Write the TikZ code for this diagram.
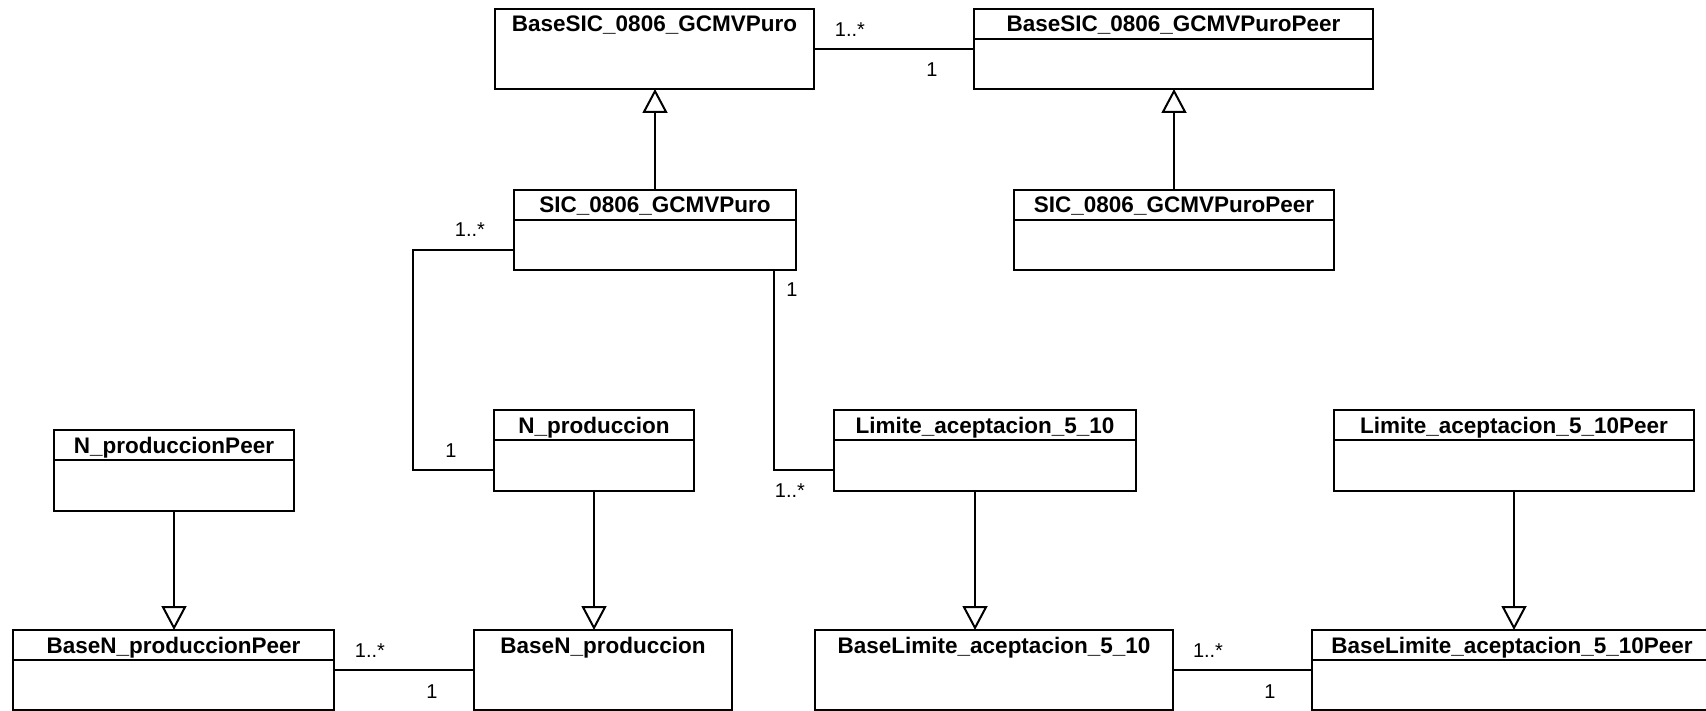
\documentclass[tikz,border=0pt]{standalone}
\usepackage{fontspec}
\setmainfont{Liberation Sans}
\usetikzlibrary{arrows.meta,calc,fit}

% class box: outline and title
\newcommand{\umlclass}[6]{%
  \node[classbox, fit={(#2,#3) (#4,#5)}] (#1) {};
  \node[classtitle] (#1-title) at ($(#1.north)+(0,23)$) {#6};
}
% header separator below the class name
\newcommand{\umlsep}[1]{%
  \draw[classline] ($(#1.north west)+(0,30)$) -- ($(#1.north east)+(0,30)$);
}

\begin{document}
\begin{tikzpicture}[x=1pt, y=-1pt,
  classline/.style={line width=2pt, black},
  classbox/.style={draw, line width=2pt, inner sep=0pt, outer sep=0pt, rectangle},
  classtitle/.style={anchor=base, inner sep=0pt, font=\bfseries\fontsize{22.5}{27}\selectfont},
  mult/.style={anchor=base, inner sep=0pt, font=\fontsize{20}{24}\selectfont},
  assoc/.style={line width=2pt},
  gen/.style={line width=2pt, -{Triangle[open, length=24pt, width=25pt, line width=2pt]}},
]
\useasboundingbox (0,0) rectangle (1706,711);

% classes
\umlclass{bsic}{495}{9}{814}{89}{BaseSIC\_0806\_GCMVPuro}
\umlclass{bsicp}{974}{9}{1373}{89}{BaseSIC\_0806\_GCMVPuroPeer}
\umlsep{bsicp}
\umlclass{sic}{514}{190}{796}{270}{SIC\_0806\_GCMVPuro}
\umlsep{sic}
\umlclass{sicp}{1014}{190}{1334}{270}{SIC\_0806\_GCMVPuroPeer}
\umlsep{sicp}
\umlclass{np}{494}{410}{694}{491}{N\_produccion}
\umlsep{np}
\umlclass{lim}{834}{410}{1136}{491}{Limite\_aceptacion\_5\_10}
\umlsep{lim}
\umlclass{limp}{1334}{410}{1694}{491}{Limite\_aceptacion\_5\_10Peer}
\umlsep{limp}
\umlclass{npp}{54}{430}{294}{511}{N\_produccionPeer}
\umlsep{npp}
\umlclass{bnp}{13}{630}{334}{710}{BaseN\_produccionPeer}
\umlsep{bnp}
\umlclass{bn}{474}{630}{732}{710}{BaseN\_produccion}
\umlclass{blim}{815}{630}{1173}{710}{BaseLimite\_aceptacion\_5\_10}
\umlclass{blimp}{1312}{630}{1712}{710}{BaseLimite\_aceptacion\_5\_10Peer}
\umlsep{blimp}

% associations
\draw[assoc] (bsic.east) -- (bsicp.west);
\draw[assoc] (bnp.east) -- (bn.west);
\draw[assoc] (blim.east) -- (blimp.west);
\draw[assoc] ($(sic.west)+(0,20)$) -- ++(-101,0) |- ($(np.west)+(0,19.5)$);
\draw[assoc] ($(sic.south east)+(-22,0)$) |- ($(lim.west)+(0,19.5)$);

% generalizations
\draw[gen] (sic.north) -- (sic.north |- bsic.south);
\draw[gen] (sicp.north) -- (sicp.north |- bsicp.south);
\draw[gen] (npp.south) -- (npp.south |- bnp.north);
\draw[gen] (np.south) -- (np.south |- bn.north);
\coordinate (limfoot) at ($(lim.south)+(-10,0)$);
\draw[gen] (limfoot) -- (limfoot |- blim.north);
\draw[gen] (limp.south) -- (limp.south |- blimp.north);

% multiplicities
\node[mult] (m1) at (850,37) {1..*};
\node[mult] (m2) at (932,77) {1};
\node[mult] (m3) at (470,237) {1..*};
\node[mult] (m4) at (451,457) {1};
\node[mult] (m5) at (792,297) {1};
\node[mult] (m6) at (790,497) {1..*};
\node[mult] (m7) at (370,657) {1..*};
\node[mult] (m8) at (432,698) {1};
\node[mult] (m9) at (1208,657) {1..*};
\node[mult] (m10) at (1270,698) {1};
\end{tikzpicture}
\end{document}
